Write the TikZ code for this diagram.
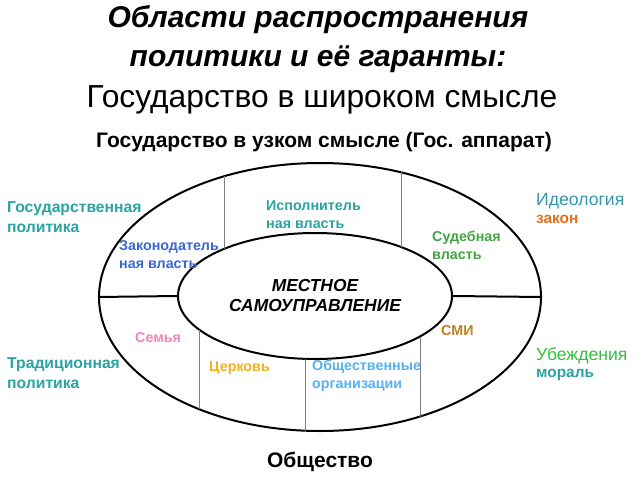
\documentclass[tikz,border=0pt]{standalone}
\usepackage{fontspec}
\setmainfont{Liberation Sans}
\usetikzlibrary{shapes.geometric}
\definecolor{teal1}{HTML}{2AA3A3}
\definecolor{blue1}{HTML}{3868D0}
\definecolor{green1}{HTML}{44A444}
\definecolor{orange1}{HTML}{E0701E}
\definecolor{pink1}{HTML}{F085B8}
\definecolor{yellow1}{HTML}{F0B020}
\definecolor{lblue1}{HTML}{55B2EE}
\definecolor{brown1}{HTML}{C08020}
\definecolor{lgreen1}{HTML}{33C040}
\definecolor{teal2}{HTML}{3399AA}
\begin{document}
\begin{tikzpicture}[x=1pt,y=-1pt,
  lbl/.style={font=\fontsize{14.3}{18}\selectfont\bfseries, align=left, anchor=west, inner sep=0pt},
  side/.style={font=\fontsize{15.7}{20}\selectfont\bfseries, align=left, anchor=west, inner sep=0pt},
  big/.style={font=\fontsize{17.6}{20}\selectfont, anchor=west, inner sep=0pt},
  ring/.style={draw=black, line width=2pt, ellipse, inner sep=0pt},
  sep/.style={draw=black, line width=2pt},
  divider/.style={draw=gray, line width=1pt}]
\useasboundingbox (0,0) rectangle (640,480);
\node[font=\fontsize{30}{39}\selectfont\bfseries\itshape, align=center] (title) at (318,39) {Области распространения\\политики и её гаранты:};
\node[font=\fontsize{31.8}{34}\selectfont] (broad) at (322,100) {Государство в широком смысле};
\node[font=\fontsize{21}{24}\selectfont\bfseries] (narrow) at (324,142) {Государство в узком смысле (Гос. аппарат)};
\node[ring, minimum width=442, minimum height=268] (outer) at (320,297) {};
\node[ring, minimum width=274, minimum height=126, font=\fontsize{17.4}{20}\selectfont\bfseries\itshape, align=center] (inner) at (315,296) {МЕСТНОЕ\\САМОУПРАВЛЕНИЕ};
\draw[sep] (outer.west) -- (inner.west);
\draw[sep] (inner.east) -- (outer.east);
\coordinate (a1) at (224,176.3); \coordinate (a2) at (224,248.9);
\coordinate (b1) at (401,172.3); \coordinate (b2) at (401,247);
\coordinate (c1) at (199,409.1); \coordinate (c2) at (199,329.5);
\coordinate (d1) at (305,430.7); \coordinate (d2) at (305,358.8);
\coordinate (e1) at (420,416.5); \coordinate (e2) at (420,336.5);
\draw[divider] (a1) -- (a2);
\draw[divider] (b1) -- (b2);
\draw[divider] (c1) -- (c2);
\draw[divider] (d1) -- (d2);
\draw[divider] (e1) -- (e2);
\node[side, text=teal1] (gp) at (7,217) {Государственная\\политика};
\node[lbl, text=blue1] (zak) at (119,255) {Законодатель\\ная власть};
\node[lbl, text=teal1] (isp) at (266,215) {Исполнитель\\ная власть};
\node[lbl, text=green1] (sud) at (432,245) {Судебная\\власть};
\node[big, text=teal2] (ideo) at (536,201) {Идеология};
\node[lbl, text=orange1, font=\fontsize{15.4}{17}\selectfont\bfseries] (zakon) at (536,219) {закон};
\node[lbl, text=pink1] (sem) at (135,338) {Семья};
\node[lbl, text=yellow1] (cerk) at (209,368) {Церковь};
\node[lbl, text=lblue1] (obsh) at (312,376) {Общественные\\организации};
\node[lbl, text=brown1] (smi) at (441,331) {СМИ};
\node[side, text=teal1] (trad) at (7,373) {Традиционная\\политика};
\node[big, text=lgreen1] (ube) at (536,356) {Убеждения};
\node[lbl, text=teal1, font=\fontsize{15.4}{17}\selectfont\bfseries] (mor) at (536,375) {мораль};
\node[font=\fontsize{21}{24}\selectfont\bfseries] (soc) at (320,462) {Общество};
\end{tikzpicture}
\end{document}
